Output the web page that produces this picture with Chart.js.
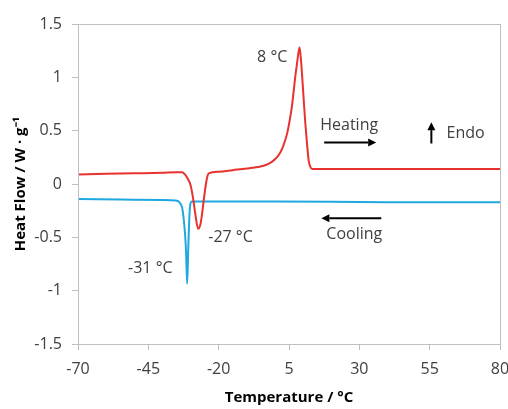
<!DOCTYPE html>
<html>
<head>
<meta charset="utf-8">
<script src="https://cdn.jsdelivr.net/npm/chart.js@4.4.1/dist/chart.umd.min.js"></script>
<style>
  html, body { margin: 0; padding: 0; background: #fff; }
  #wrap { width: 508px; height: 409px; }
</style>
</head>
<body>
<div id="wrap"><canvas id="c"></canvas></div>
<script>
// heating curve (red)
const heatT = [-70, -60, -50, -40, -35, -33, -32, -31, -30, -29, -28.2, -27.3, -26.5, -26, -25.3, -24.8, -24.2, -23.5, -20, -15, -10, -6, -3, -1, 1, 2, 3, 4.3, 5.2, 6, 6.7, 7.2, 7.8, 8.3, 8.75, 9.2, 9.6, 10.2, 10.8, 11.4, 12, 12.6, 13.2, 20, 40, 60, 80];
const heatV = [0.09, 0.095, 0.1, 0.105, 0.11, 0.11, 0.09, 0.05, -0.01, -0.15, -0.3, -0.42, -0.38, -0.3, -0.15, -0.05, 0.05, 0.1, 0.115, 0.13, 0.145, 0.16, 0.18, 0.21, 0.26, 0.3, 0.36, 0.47, 0.59, 0.72, 0.88, 1.0, 1.12, 1.22, 1.28, 1.18, 1.04, 0.8, 0.57, 0.38, 0.22, 0.16, 0.14, 0.14, 0.14, 0.14, 0.14];

// cooling curve (blue)
const coolT = [-70, -55, -40, -35.5, -34, -33, -32.5, -32, -31.6, -31.2, -30.8, -30.4, -30, -29.5, -20, 0, 40, 80];
const coolV = [-0.14, -0.145, -0.15, -0.155, -0.17, -0.22, -0.31, -0.45, -0.63, -0.935, -0.6, -0.3, -0.18, -0.165, -0.165, -0.165, -0.17, -0.17];

// annotation labels: text, x (°C), y (W/g), alignment
const noteText = ['8 \u00B0C', 'Heating', 'Endo', '-27 \u00B0C', '-31 \u00B0C', 'Cooling'];
const noteX = [4.4, 26.4, 61, -23.7, -52.2, 28.2];
const noteY = [1.19, 0.55, 0.47, -0.5, -0.79, -0.47];
const noteAlign = ['right', 'center', 'left', 'left', 'left', 'center'];

// arrows: from -> to (head at "to")
const arrowX1 = [17.5, 37.8, 55.6];
const arrowY1 = [0.39, -0.32, 0.38];
const arrowX2 = [36, 16.5, 55.6];
const arrowY2 = [0.39, -0.32, 0.58];

const toPts = (xs, ys) => xs.map((x, i) => ({ x: x, y: ys[i] }));

const axisGray = '#bfbfbf';
const textGray = '#404040';
const fontFam = '"Open Sans", sans-serif';

const boxPlugin = {
  id: 'box',
  afterDraw(chart) {
    const { ctx, chartArea: a, scales } = chart;
    ctx.save();
    ctx.strokeStyle = axisGray;
    ctx.lineWidth = 1;
    ctx.strokeRect(a.left + 0.5, a.top + 0.5, a.right - a.left, a.bottom - a.top);

    ctx.fillStyle = textGray;
    ctx.font = '16px ' + fontFam;
    ctx.textBaseline = 'middle';
    noteText.forEach((t, i) => {
      ctx.textAlign = noteAlign[i];
      ctx.fillText(t, scales.x.getPixelForValue(noteX[i]), scales.y.getPixelForValue(noteY[i]));
    });

    ctx.strokeStyle = '#000';
    ctx.fillStyle = '#000';
    ctx.lineWidth = 2;
    arrowX1.forEach((x1, i) => {
      const px1 = scales.x.getPixelForValue(x1), py1 = scales.y.getPixelForValue(arrowY1[i]);
      const px2 = scales.x.getPixelForValue(arrowX2[i]), py2 = scales.y.getPixelForValue(arrowY2[i]);
      const ang = Math.atan2(py2 - py1, px2 - px1);
      const hl = 8, hw = 4;
      const bx = px2 - hl * Math.cos(ang), by = py2 - hl * Math.sin(ang);
      ctx.beginPath();
      ctx.moveTo(px1, py1);
      ctx.lineTo(bx, by);
      ctx.stroke();
      ctx.beginPath();
      ctx.moveTo(px2, py2);
      ctx.lineTo(bx + hw * Math.sin(ang), by - hw * Math.cos(ang));
      ctx.lineTo(bx - hw * Math.sin(ang), by + hw * Math.cos(ang));
      ctx.closePath();
      ctx.fill();
    });
    ctx.restore();
  }
};

new Chart(document.getElementById('c'), {
  type: 'scatter',
  data: {
    datasets: [
      {
        label: 'Heating',
        data: toPts(heatT, heatV),
        showLine: true,
        borderColor: '#e8322f',
        borderWidth: 2,
        pointRadius: 0,
        cubicInterpolationMode: 'monotone',
      },
      {
        label: 'Cooling',
        data: toPts(coolT, coolV),
        showLine: true,
        borderColor: '#1fa9e1',
        borderWidth: 2,
        pointRadius: 0,
        cubicInterpolationMode: 'monotone',
      },
    ],
  },
  options: {
    responsive: true,
    maintainAspectRatio: false,
    animation: false,
    layout: { padding: { left: 0, right: 8, top: 24, bottom: 0 } },
    plugins: { legend: { display: false }, tooltip: { enabled: false } },
    scales: {
      x: {
        type: 'linear',
        min: -70,
        max: 80,
        afterFit: (s) => { s.height = 65; s.paddingRight = 0; s.paddingLeft = 0; },
        border: { color: axisGray },
        grid: { drawOnChartArea: false, drawTicks: true, tickLength: 6, color: axisGray },
        ticks: { stepSize: 25, padding: 10, color: textGray, font: { family: fontFam, size: 16 } },
        title: {
          display: true,
          text: 'Temperature / \u00B0C',
          color: '#000',
          font: { family: fontFam, size: 15, weight: 'bold' },
          padding: { top: 0, bottom: 2 },
        },
      },
      y: {
        min: -1.5,
        max: 1.5,
        afterFit: (s) => { s.width = 78; },
        border: { color: axisGray },
        grid: { drawOnChartArea: false, drawTicks: true, tickLength: 6, color: axisGray },
        ticks: {
          stepSize: 0.5,
          padding: 10,
          color: textGray,
          font: { family: fontFam, size: 16 },
          callback: (v) => String(Number(v.toFixed(1))),
        },
        title: {
          display: true,
          text: 'Heat Flow / W \u00B7 g\u207B\u00B9',
          color: '#000',
          font: { family: fontFam, size: 15, weight: 'bold' },
          padding: { top: 12, bottom: 0 },
        },
      },
    },
  },
  plugins: [boxPlugin],
});
</script>
</body>
</html>
